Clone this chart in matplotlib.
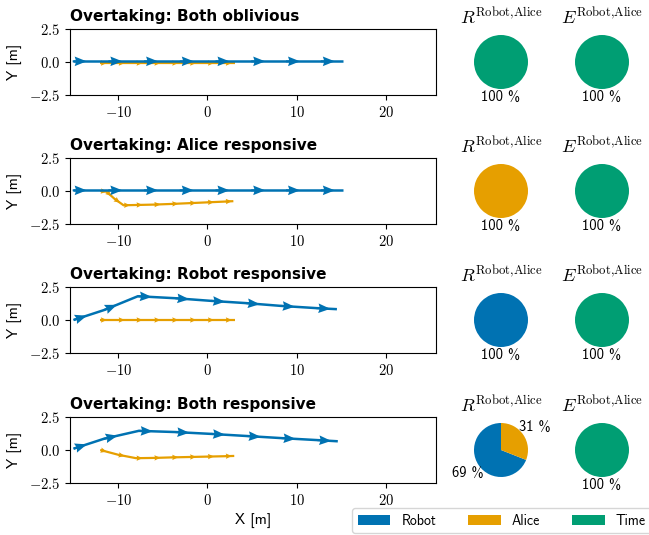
import numpy as np
import matplotlib
matplotlib.use("Agg")
import matplotlib.pyplot as plt
from matplotlib.patches import Patch

plt.rcParams['mathtext.fontset'] = 'cm'

# ---------------- data ----------------
titles = ["Overtaking: Both oblivious", "Overtaking: Alice responsive",
          "Overtaking: Robot responsive", "Overtaking: Both responsive"]

robot_x = [
    [-15.1, -11.1, -7.1, -3.1, 0.9, 4.9, 8.8, 12.7, 15.2],
    [-15.1, -11.1, -7.1, -3.1, 0.9, 4.9, 8.8, 12.7, 15.2],
    [-15.0, -11.6, -7.8, -3.6, 0.4, 4.3, 8.2, 12.2, 14.5],
    [-15.0, -11.6, -7.7, -3.6, 0.4, 4.4, 8.3, 12.3, 14.6],
]
robot_y = [
    [0.05, 0.05, 0.05, 0.05, 0.05, 0.05, 0.05, 0.05, 0.05],
    [0.05, 0.05, 0.05, 0.05, 0.05, 0.05, 0.05, 0.05, 0.05],
    [0.0, 0.75, 1.8, 1.65, 1.45, 1.28, 1.07, 0.9, 0.82],
    [0.1, 0.85, 1.45, 1.36, 1.22, 1.06, 0.9, 0.75, 0.66],
]
alice_x = [
    [-12.0, -10.0, -8.0, -6.0, -4.0, -2.0, 0.0, 2.0, 3.1],
    [-12.0, -11.3, -10.4, -9.4, -8.0, -6.0, -4.0, -2.0, 0.0, 2.0, 2.9],
    [-12.0, -10.0, -8.0, -6.0, -4.0, -2.0, 0.0, 2.0, 3.1],
    [-12.0, -10.0, -8.0, -6.0, -4.0, -2.0, 0.0, 2.0, 3.0],
]
alice_y = [
    [-0.08, -0.08, -0.08, -0.08, -0.08, -0.08, -0.08, -0.08, -0.08],
    [0.0, -0.05, -0.6, -1.08, -1.06, -1.03, -0.98, -0.92, -0.86, -0.8, -0.77],
    [0.0, 0.0, 0.0, 0.0, 0.0, 0.0, 0.0, 0.0, 0.0],
    [0.0, -0.36, -0.62, -0.6, -0.56, -0.53, -0.5, -0.47, -0.45],
]

pie_names = ["Robot", "Alice", "Time"]
R_values = [
    [0, 0, 100],
    [0, 100, 0],
    [100, 0, 0],
    [69, 31, 0],
]
E_values = [
    [0, 0, 100],
    [0, 0, 100],
    [0, 0, 100],
    [0, 0, 100],
]

xticks = [-10, 0, 10, 20]
xticklabels = [r"$-10$", r"$0$", r"$10$", r"$20$"]
yticks = [-2.5, 0.0, 2.5]
yticklabels = [r"$-2.5$", r"$0.0$", r"$2.5$"]

colors = {"Robot": "#0072B2", "Alice": "#E69F00", "Time": "#009E73"}

# ---------------- figure ----------------
W, H = 649, 535
fig = plt.figure(figsize=(W / 100, H / 100), dpi=100)


def fax(l, t, w, h):
    return fig.add_axes([l / W, 1 - (t + h) / H, w / W, h / H])


def traj(ax, x, y, color, lw, alen, width, hl, hw, z):
    x = np.asarray(x, float)
    y = np.asarray(y, float)
    ax.plot(x, y, color=color, lw=lw, zorder=z, solid_capstyle='butt')
    dx = np.diff(x)
    dy = np.diff(y)
    n = np.hypot(dx, dy)
    ax.quiver(x[:-1], y[:-1], dx / n * alen, dy / n * alen, angles='xy',
              scale_units='inches', scale=1, units='dots', width=width,
              headlength=hl, headaxislength=hl * 0.9, headwidth=hw,
              color=color, pivot='tail', zorder=z + 0.1)


row_tops = [29, 158, 287, 417]
ah = 66
sans = 'cmss10'

for i in range(4):
    top = row_tops[i]
    ax = fax(70, top, 366, ah)
    traj(ax, alice_x[i], alice_y[i], colors["Alice"], 1.6, 0.065, 1.5, 4, 3.6, 2)
    traj(ax, robot_x[i], robot_y[i], colors["Robot"], 1.8, 0.14, 2.0, 6, 4.8, 3)
    ax.set_xlim(-15.4, 25.6)
    ax.set_ylim(-2.5, 2.5)
    ax.set_xticks(xticks)
    ax.set_xticklabels(xticklabels, fontsize=10.5)
    ax.set_yticks(yticks)
    ax.set_yticklabels(yticklabels, fontsize=10.5)
    ax.set_ylabel("Y [m]", family=sans, fontsize=11, labelpad=5)
    ax.set_title(titles[i], loc='left', fontweight='bold', family='DejaVu Sans',
                 fontsize=11, pad=6)
    if i == 3:
        ax.set_xlabel("X [m]", family=sans, fontsize=11)

    cy = top + ah / 2
    for cx, vals, sym in [(501, R_values[i], 'R'), (602, E_values[i], 'E')]:
        pax = fax(cx - 33.75, cy - 33.75, 67.5, 67.5)
        v = [val for val in vals if val > 0]
        c = [colors[nm] for nm, val in zip(pie_names, vals) if val > 0]
        pdist = 1.5 if len(v) > 1 else 1.28
        pax.pie(v, colors=c, startangle=90, radius=1,
                autopct=lambda p: f"{p:.0f} %", pctdistance=pdist,
                textprops=dict(family=sans, fontsize=10.5))
        pax.set_xlim(-1.25, 1.25)
        pax.set_ylim(-1.25, 1.25)
        pax.set_aspect('equal')
        pax.set_title(r"$%s^{\mathrm{Robot{,}Alice}}$" % sym, fontsize=13, pad=3)

handles = [Patch(facecolor=colors[n], label=n) for n in pie_names]
fig.legend(handles=handles, loc='upper left', bbox_to_anchor=(352 / W, 1 - 508 / H),
           ncol=3, prop=dict(family=sans, size=10), handlelength=2.35,
           handleheight=0.75, columnspacing=2.3, handletextpad=0.8,
           borderaxespad=0, frameon=True, edgecolor='#cccccc')

fig.savefig("out.png", dpi=100)
